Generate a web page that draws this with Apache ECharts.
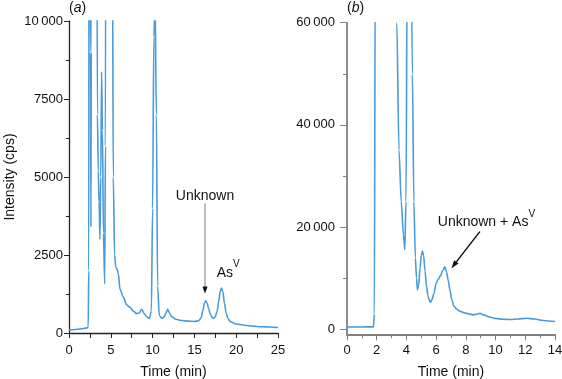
<!DOCTYPE html>
<html><head><meta charset="utf-8">
<script src="https://cdn.jsdelivr.net/npm/echarts@6/dist/echarts.min.js"></script>
<style>html,body{margin:0;padding:0;background:#fff}#c{width:562px;height:379px}</style>
</head><body><div id="c"></div>
<script>
// ---- Panel (a) data: time (min), intensity (cps) ----
const timeA = [
  0, 0.5, 1, 1.5, 2, 2.3, 2.36, 2.42, 2.52, 2.58,
  2.62, 2.66, 2.72, 3.0, 3.28, 3.4, 3.5, 3.6, 3.7, 3.8,
  3.9, 4.0, 4.12, 4.27, 4.36, 4.45, 4.8, 5.1, 5.2, 5.3,
  5.45, 5.6, 5.75, 5.9, 6.1, 6.5, 6.9, 7.3, 7.7, 8.1,
  8.4, 8.7, 9.0, 9.3, 9.6, 9.85, 10.0, 10.15, 10.3, 10.45,
  10.6, 10.8, 11.1, 11.4, 11.6, 11.8, 12.0, 12.3, 12.8, 13.5,
  14.3, 15.0, 15.5, 15.8, 16.0, 16.2, 16.35, 16.5, 16.7, 16.9,
  17.1, 17.3, 17.5, 17.7, 17.9, 18.1, 18.25, 18.4, 18.6, 18.8,
  19.0, 19.3, 20, 21, 22, 23, 24, 25
];
const intensityA = [
  100, 105, 120, 135, 155, 185, 2000, 25000, 25000, 9000,
  3400, 9000, 30000, 30000, 20000, 7000, 5200, 4200, 3000, 5000,
  8370, 6500, 3200, 1580, 6000, 30000, 40000, 30000, 12000, 5000,
  2500, 2100, 2050, 1900, 1400, 1150, 900, 820, 700, 620,
  640, 760, 620, 520, 460, 700, 4000, 9500, 10600, 7000,
  1500, 560, 470, 520, 640, 760, 650, 520, 440, 400,
  380, 370, 390, 480, 700, 960, 1030, 970, 790, 610,
  500, 470, 520, 680, 1000, 1350, 1440, 1320, 950, 640,
  470, 360, 290, 250, 220, 200, 190, 175
];
// ---- Panel (b) data ----
const timeB = [
  0, 0.5, 1, 1.5, 1.78, 1.84, 1.9, 2.5, 3.0, 3.35,
  3.5, 3.65, 3.8, 3.89, 3.97, 4.05, 4.25, 4.4, 4.5, 4.6,
  4.68, 4.74, 4.82, 4.92, 5.0, 5.08, 5.16, 5.25, 5.35, 5.45,
  5.55, 5.62, 5.72, 5.85, 6.0, 6.15, 6.3, 6.45, 6.58, 6.7,
  6.82, 6.92, 7.05, 7.2, 7.4, 7.6, 7.9, 8.2, 8.5, 8.75,
  8.95, 9.2, 9.6, 10.0, 10.5, 11.0, 11.5, 12.1, 12.6, 13.2,
  13.6, 14.0
];
const intensityB = [
  450, 440, 440, 450, 460, 3000, 70000, 150000, 150000, 60000,
  35000, 25000, 18500, 15600, 25000, 70000, 100000, 50000, 25000, 14000,
  10000, 7700, 8600, 12000, 14500, 15300, 14300, 11500, 8500, 6500,
  5600, 5300, 5800, 7000, 9000, 9800, 10500, 11500, 12200, 11200,
  9500, 7700, 5800, 4500, 3900, 3500, 3200, 3000, 2800, 2950,
  3100, 2800, 2400, 2100, 1950, 1900, 2000, 2150, 2000, 1700,
  1600, 1500
];
// ---- Axis ticks ----
const xTicksA = [0, 5, 10, 15, 20, 25];
const yTicksA = [0, 2500, 5000, 7500, 10000];
const xTicksB = [0, 2, 4, 6, 8, 10, 12, 14];
const yTicksB = [0, 20000, 40000, 60000];
const yMinorB = [10000, 30000, 50000];
const labelsA = { title: '(a)', unknown: 'Unknown', asv: 'As' };
const labelsB = { title: '(b)', combo: 'Unknown + As' };

const FF = "'Liberation Sans', Arial, Helvetica, sans-serif";
const LINE = '#4a9bdc';
const AC_A = '#222', AC_B = '#808080';
function fmt(v){ const s = String(v); return v >= 10000 ? s.slice(0, s.length - 3) + '\u2009' + s.slice(-3) : s; }
const zip = (xs, ys) => xs.map((x, i) => [x, ys[i]]);

const chart = echarts.init(document.getElementById('c'), null, {renderer: 'canvas'});
const lbl = {color: '#111', fontSize: 13, fontFamily: FF};
const nameStyle = {color: '#111', fontSize: 14, fontFamily: FF};

const option = {
  animation: false,
  backgroundColor: '#fff',
  grid: [
    {left: 69, top: 21, width: 209, height: 312, containLabel: false, outerBoundsMode: 'none'},
    {left: 347, top: 22.7, width: 208, height: 311.6, containLabel: false, outerBoundsMode: 'none'}
  ],
  xAxis: [
    {gridIndex: 0, type: 'value', min: xTicksA[0], max: xTicksA[xTicksA.length-1], interval: xTicksA[1]-xTicksA[0],
     axisLine: {show: true, onZero: false, lineStyle: {color: AC_A, width: 1.3}},
     axisTick: {show: true, length: 5, lineStyle: {color: AC_A, width: 1}},
     minorTick: {show: true, splitNumber: 2, length: 5, lineStyle: {color: AC_A, width: 1}},
     splitLine: {show: false},
     axisLabel: Object.assign({margin: 11}, lbl),
     name: 'Time (min)', nameLocation: 'middle', nameGap: 32, nameTextStyle: nameStyle},
    {gridIndex: 1, type: 'value', min: xTicksB[0], max: xTicksB[xTicksB.length-1], interval: xTicksB[1]-xTicksB[0],
     axisLine: {show: true, onZero: false, lineStyle: {color: AC_B, width: 1.8}},
     axisTick: {show: true, length: 6, lineStyle: {color: AC_B, width: 1}},
     minorTick: {show: true, splitNumber: 2, length: 4, lineStyle: {color: AC_B, width: 1}},
     splitLine: {show: false},
     axisLabel: Object.assign({margin: 10}, lbl),
     name: 'Time (min)', nameLocation: 'middle', nameGap: 31, nameTextStyle: nameStyle}
  ],
  yAxis: [
    {gridIndex: 0, type: 'value', min: yTicksA[0], max: yTicksA[yTicksA.length-1], interval: yTicksA[1]-yTicksA[0],
     axisLine: {show: true, onZero: false, lineStyle: {color: AC_A, width: 1.3}},
     axisTick: {show: true, length: 5, lineStyle: {color: AC_A, width: 1}},
     minorTick: {show: true, splitNumber: 2, length: 3, lineStyle: {color: AC_A, width: 1}},
     splitLine: {show: false},
     axisLabel: Object.assign({margin: 6, formatter: fmt}, lbl),
     name: 'Intensity (cps)', nameLocation: 'middle', nameGap: 52, nameTextStyle: nameStyle},
    {gridIndex: 1, type: 'value', position: 'left', offset: 0, min: -1000, max: yTicksB[yTicksB.length-1],
     axisLine: {show: true, onZero: false, lineStyle: {color: AC_B, width: 1.8}},
     axisTick: {show: true, length: 7, customValues: yTicksB, lineStyle: {color: AC_B, width: 1}},
     splitLine: {show: false},
     axisLabel: Object.assign({margin: 12, formatter: fmt, customValues: yTicksB}, lbl)},
    {gridIndex: 1, type: 'value', position: 'left', offset: 0, min: -1000, max: yTicksB[yTicksB.length-1],
     axisLine: {show: false, onZero: false},
     axisTick: {show: true, length: 4, customValues: yMinorB, lineStyle: {color: AC_B, width: 1}},
     splitLine: {show: false},
     axisLabel: {show: false}}
  ],
  series: [
    {type: 'line', xAxisIndex: 0, yAxisIndex: 0, data: zip(timeA, intensityA), showSymbol: false,
     smooth: 0.3, smoothMonotone: 'x',
     lineStyle: {color: LINE, width: 1.6}, clip: true, silent: true},
    {type: 'line', xAxisIndex: 1, yAxisIndex: 1, data: zip(timeB, intensityB), showSymbol: false,
     smooth: 0.3, smoothMonotone: 'x',
     lineStyle: {color: LINE, width: 1.6}, clip: true, silent: true}
  ]
};
chart.setOption(option);

const pA = (x, y) => chart.convertToPixel({xAxisIndex: 0, yAxisIndex: 0}, [x, y]);
const pB = (x, y) => chart.convertToPixel({xAxisIndex: 1, yAxisIndex: 1}, [x, y]);
function arrow(a, b, lineColor, headColor, headLen, headW){
  const dx = b[0]-a[0], dy = b[1]-a[1], L = Math.hypot(dx, dy), ux = dx/L, uy = dy/L;
  const bx = b[0]-ux*headLen, by = b[1]-uy*headLen, nx = -uy, ny = ux;
  return [
    {type: 'line', silent: true, shape: {x1: a[0], y1: a[1], x2: bx, y2: by}, style: {stroke: lineColor, lineWidth: 1.5}},
    {type: 'polygon', silent: true, shape: {points: [[b[0], b[1]], [bx+nx*headW, by+ny*headW], [bx-nx*headW, by-ny*headW]]}, style: {fill: headColor}}
  ];
}
const supRich = {
  m: {fontSize: 14, fontFamily: FF, lineHeight: 20, verticalAlign: 'bottom', fill: '#111'},
  s: {fontSize: 10, fontFamily: FF, lineHeight: 10, verticalAlign: 'top', fill: '#111'},
  i: {fontSize: 14, fontFamily: FF, fontStyle: 'italic', fill: '#111'}
};
function txt(pos, text, align){
  return {type: 'text', silent: true, x: pos[0], y: pos[1],
    style: {text: text, rich: supRich, font: '14px ' + FF, fill: '#111', align: align || 'center', verticalAlign: 'middle'}};
}
const uA = pA(16.27, 4470), asA = pA(17.67, 2030), uB = pB(6.11, 21600);
const g = [].concat(
  arrow(pA(16.27, 4150), pA(16.27, 1264), '#a8a8a8', '#111', 7, 2.6),
  arrow(pB(8.94, 19100), pB(7.03, 11940), '#111', '#111', 8, 2.8),
  [
    txt(uA, '{m|' + labelsA.unknown + '}'),
    txt(asA, '{m|' + labelsA.asv + '}{s|V}', 'left'),
    txt(uB, '{m|' + labelsB.combo + '}{s|V}', 'left'),
    {type: 'text', silent: true, x: 69, y: 8, style: {text: '({i|a})', rich: supRich, font: '14px ' + FF, fill: '#111', align: 'left', verticalAlign: 'middle'}},
    {type: 'text', silent: true, x: 347, y: 8, style: {text: '({i|b})', rich: supRich, font: '14px ' + FF, fill: '#111', align: 'left', verticalAlign: 'middle'}}
  ]
);
chart.setOption({graphic: g});
</script></body></html>
